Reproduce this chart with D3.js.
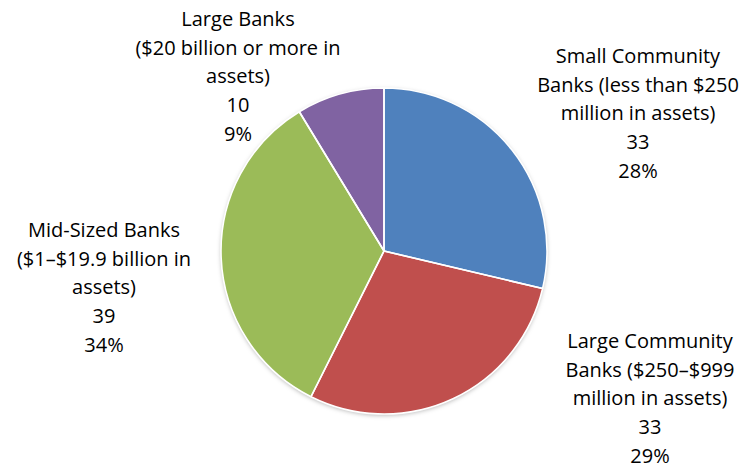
<!DOCTYPE html>
<html>
<head>
<meta charset="utf-8">
<script src="https://cdn.jsdelivr.net/npm/d3@7"></script>
<style>
  html, body { margin: 0; padding: 0; background: #fff; }
  svg { display: block; }
</style>
</head>
<body>
<svg id="chart" width="743" height="469"></svg>
<script>
// ---- data ----
const categories = [
  ["Small Community", "Banks (less than $250", "million in assets)"],
  ["Large Community", "Banks ($250\u2013$999", "million in assets)"],
  ["Mid-Sized Banks", "($1\u2013$19.9 billion in", "assets)"],
  ["Large Banks", "($20 billion or more in", "assets)"]
];
const values = [33, 33, 39, 10];
const percentLabels = ["28%", "29%", "34%", "9%"];
const colors = ["#4F81BD", "#C0504D", "#9BBB59", "#8064A2"];

// ---- layout ----
const W = 743, H = 469;
const cx = 384, cy = 251, R = 163;
const fontSize = 20, lineGap = 28.7;
// label anchor: centre x, first baseline y
const labelAnchors = [
  [638, 63],
  [650, 348],
  [104, 237],
  [238, 26]
];

const svg = d3.select("#chart");
const defs = svg.append("defs");
const f = defs.append("filter").attr("id", "shadow")
  .attr("x", "-10%").attr("y", "-10%").attr("width", "120%").attr("height", "120%");
f.append("feDropShadow").attr("dx", 0).attr("dy", 1.5)
  .attr("stdDeviation", 2).attr("flood-color", "#000").attr("flood-opacity", 0.28);

const pie = d3.pie().sort(null).value(d => d);
const arcs = pie(values);
const arc = d3.arc().innerRadius(0).outerRadius(R);

const g = svg.append("g").attr("transform", `translate(${cx},${cy})`);
g.append("g").attr("filter", "url(#shadow)")
  .selectAll("path").data(arcs).join("path")
  .attr("d", arc)
  .attr("fill", (d, i) => colors[i]);
g.append("g").selectAll("path").data(arcs).join("path")
  .attr("d", arc)
  .attr("fill", "none")
  .attr("stroke", "#fff")
  .attr("stroke-width", 1.6)
  .attr("stroke-linejoin", "round");

const lbl = svg.append("g")
  .attr("font-family", "'Open Sans', sans-serif")
  .attr("font-size", fontSize)
  .attr("fill", "#000")
  .attr("text-anchor", "middle");

categories.forEach((lines, i) => {
  const all = lines.concat([String(values[i]), percentLabels[i]]);
  const t = lbl.append("text");
  all.forEach((s, j) => {
    t.append("tspan")
      .attr("x", labelAnchors[i][0])
      .attr("y", labelAnchors[i][1] + j * lineGap)
      .text(s);
  });
});
</script>
</body>
</html>
